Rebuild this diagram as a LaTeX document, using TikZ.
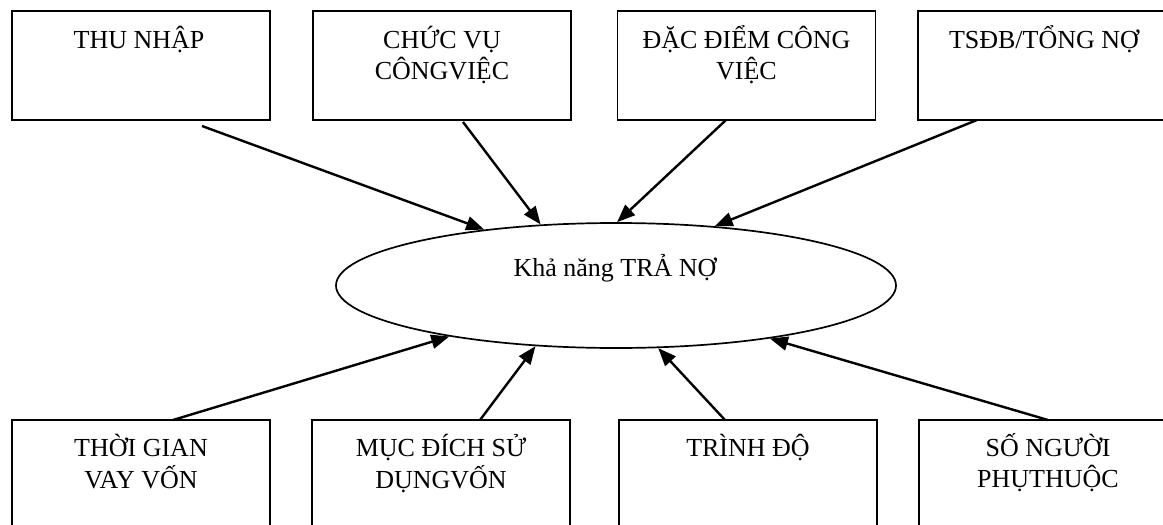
\documentclass[tikz,border=0pt]{standalone}
\usepackage{fontspec}
\setmainfont{Liberation Serif}
\usetikzlibrary{shapes.geometric,arrows.meta}
\newcommand{\twol}[1]{\begin{tabular}[t]{@{}c@{}}#1\end{tabular}}
\begin{document}
\begin{tikzpicture}[x=1pt,y=-1pt,
  box/.style={draw, line width=1.7pt, minimum width=258pt, minimum height=109pt, inner sep=0pt, outer sep=0pt},
  lab/.style={anchor=base, inner sep=0pt, font=\fontsize{26}{31}\selectfont},
  arr/.style={line width=2.4pt, -{Triangle[length=18pt,width=14pt]}},
  ell/.style={draw, ellipse, line width=1.7pt, minimum width=560pt, minimum height=125pt, inner sep=0pt}
]
\useasboundingbox (0,0) rectangle (1163,525);
\clip (0,0) rectangle (1163,525);

% top boxes
\node[box] (b1) at (141,65.5) {};
\node[box] (b2) at (442,65.5) {};
\node[box] (b3) at (746.5,65.5) {};
\node[box] (b4) at (1047,65.5) {};
\node[lab] (t1) at (139,48) {\twol{THU NHẬP}};
\node[lab] (t2) at (442,48) {\twol{CHỨC VỤ\\CÔNGVIỆC}};
\node[lab] (t3) at (746.5,48) {\twol{ĐẶC ĐIỂM CÔNG\\VIỆC}};
\node[lab] (t4) at (1044,48) {\twol{TSĐB/TỔNG NỢ}};

% bottom boxes
\node[box] (b5) at (141,474.5) {};
\node[box] (b6) at (441,474.5) {};
\node[box] (b7) at (748,474.5) {};
\node[box] (b8) at (1048,474.5) {};
\node[lab] (t5) at (141,456) {\twol{THỜI GIAN\\VAY VỐN}};
\node[lab] (t6) at (441,456) {\twol{MỤC ĐÍCH SỬ\\DỤNGVỐN}};
\node[lab] (t7) at (748,456) {\twol{TRÌNH ĐỘ}};
\node[lab] (t8) at (1048,456) {\twol{SỐ NGƯỜI\\PHỤTHUỘC}};

% ellipse
\node[ell] (e) at (616,285.5) {};
\node[lab] (kn) at (615,276) {Khả năng TRẢ NỢ};

% arrow start points
\coordinate (s1) at (202,126);
\coordinate (s2) at (463,122);
\coordinate (s3) at (726,120);
\coordinate (s4) at (977,120);
\coordinate (s5) at (173,420);
\coordinate (s6) at (480,420);
\coordinate (s7) at (725,420);
\coordinate (s8) at (1048,420);

\draw[arr] (s1) -- (e.157.7);
\draw[arr] (s2) -- (e.141.9);
\draw[arr] (s3) -- (e.89.4);
\draw[arr] (s4) -- (e.31.9);
\draw[arr] (s5) -- (e.197.2);
\draw[arr] (s6) -- (e.217.9);
\draw[arr] (s7) -- (e.304.8);
\draw[arr] (s8) -- (e.341.4);
\end{tikzpicture}
\end{document}
